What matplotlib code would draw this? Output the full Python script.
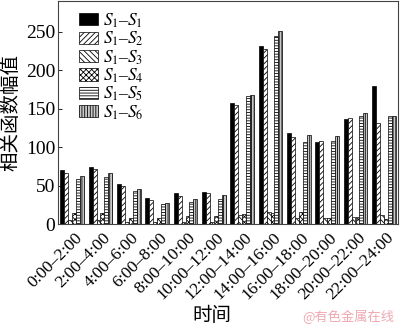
import numpy as np
import matplotlib.pyplot as plt
import matplotlib.transforms as mtransforms

plt.rcParams['font.family'] = ['Liberation Serif', 'Noto Sans CJK SC']
plt.rcParams['mathtext.fontset'] = 'stix'
plt.rcParams['hatch.linewidth'] = 0.6

# 时间段
periods = ['0:00–2:00', '2:00–4:00', '4:00–6:00', '6:00–8:00', '8:00–10:00',
           '10:00–12:00', '12:00–14:00', '14:00–16:00', '16:00–18:00',
           '18:00–20:00', '20:00–22:00', '22:00–24:00']

# 各组相关函数幅值
s1_s1 = [70, 74, 52, 34, 40, 42, 157, 231, 119, 107, 137, 179]
s1_s2 = [66, 72, 49, 31, 37, 40, 155, 227, 113, 108, 138, 131]
s1_s3 = [5, 5, 3, 3, 3, 3, 12, 16, 8, 8, 9, 12]
s1_s4 = [14, 14, 8, 8, 11, 10, 13, 15, 16, 8, 9, 6]
s1_s5 = [58, 61, 43, 26, 29, 32, 166, 244, 107, 108, 140, 140]
s1_s6 = [62, 67, 46, 28, 33, 38, 168, 251, 116, 114, 144, 140]

series = [s1_s1, s1_s2, s1_s3, s1_s4, s1_s5, s1_s6]
labels = ['$S_1$–$S_1$', '$S_1$–$S_2$', '$S_1$–$S_3$',
          '$S_1$–$S_4$', '$S_1$–$S_5$', '$S_1$–$S_6$']
hatches = ['', '//////', '\\\\\\\\\\\\', 'xxxxxx', '------', '||||||']
faces = ['black', 'white', 'white', 'white', 'white', '#c8c8c8']

fig = plt.figure(figsize=(4.0, 3.3), dpi=100)
ax = fig.add_axes([0.145, 0.321, 0.85, 0.676])

x = np.arange(len(periods))
w = 0.138
for i, (vals, lab, h, fc) in enumerate(zip(series, labels, hatches, faces)):
    ax.bar(x + (i - 2.5) * w, vals, w, label=lab, hatch=h,
           facecolor=fc, edgecolor='black', linewidth=0.5)

ax.set_xlim(-0.5, 11.5)
ax.set_ylim(0, 290)
ax.set_yticks([0, 50, 100, 150, 200, 250])
ax.set_xticks(x)
ax.set_xticklabels(periods, rotation=45, ha='right', rotation_mode='anchor')
ax.tick_params(axis='y', direction='in', length=3, labelsize=14, width=0.6, pad=2)
ax.tick_params(axis='x', length=0, labelsize=12.5, pad=4)

# 斜排刻度标签略微右移
shift = mtransforms.ScaledTranslation(0.02, 0, fig.dpi_scale_trans)
for lbl in ax.get_xticklabels():
    lbl.set_transform(lbl.get_transform() + shift)

for sp in ax.spines.values():
    sp.set_linewidth(0.8)
    sp.set_color('#444444')

ax.set_ylabel('相关函数幅值', fontsize=14, family=['Noto Sans CJK SC'], labelpad=3)
fig.text(0.53, 0.012, '时间', fontsize=14, family=['Noto Sans CJK SC'],
         ha='center', va='bottom')
fig.text(0.985, 0.018, '@有色金属在线', fontsize=9.5, family=['Noto Sans CJK SC'],
         color='#f0a8b0', ha='right', va='bottom')

ax.legend(loc='upper left', frameon=False, fontsize=12.5, handlelength=1.1,
          handleheight=0.7, labelspacing=0.0, handletextpad=0.3,
          borderaxespad=0.2, bbox_to_anchor=(0.03, 1.0))

fig.savefig('out.png', dpi=100)
